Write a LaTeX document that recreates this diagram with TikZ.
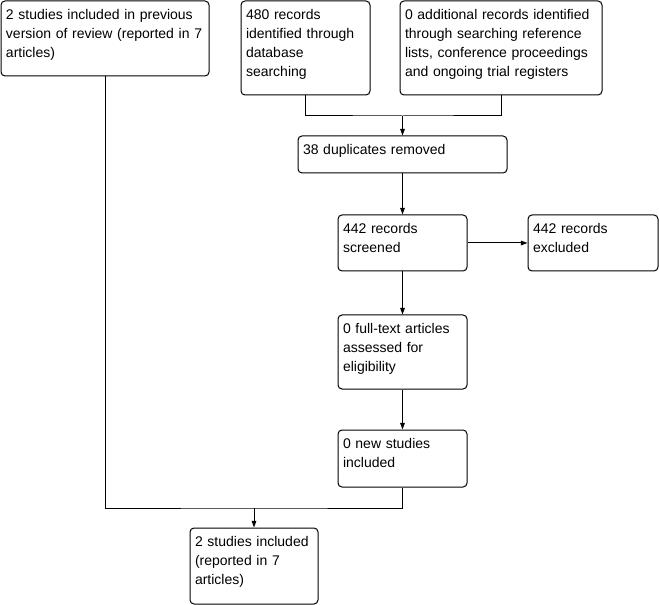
\documentclass[tikz,border=0pt]{standalone}
\usepackage{fontspec}
\setmainfont{Liberation Sans}
\usetikzlibrary{positioning, fit, arrows.meta, calc}

\tikzset{
  box/.style={draw, rounded corners=3pt, inner sep=0pt, line width=0.75pt},
  txt/.style={anchor=base west, align=left, inner sep=0pt, text width=200pt,
    font=\fontsize{10.5}{14.25}\selectfont},
  arr/.style={-{Triangle[length=5pt, width=3.5pt]}},
}

\begin{document}
\begin{tikzpicture}[x=0.75pt, y=0.75pt, line width=0.75pt]

      \useasboundingbox (0,0) rectangle (659,-605);

      % boxes
      \node[box, fit={(1,-1) (209,-76)}] (prev) {};
      \node[box, fit={(241,-1) (370,-95)}] (db) {};
      \node[box, fit={(400,-1) (602,-95)}] (other) {};
      \node[box, fit={(298,-136) (507,-173)}] (dup) {};
      \node[box, fit={(338,-215) (467,-271)}] (scr) {};
      \node[box, fit={(528,-215) (658,-271)}] (excl) {};
      \node[box, fit={(338,-315) (467,-389)}] (full) {};
      \node[box, fit={(338,-430) (467,-487)}] (newst) {};
      \node[box, fit={(190,-528) (318,-604)}] (incl) {};

      % texts
      \node[txt] (prevt) at ([shift={(5,-19)}]prev.north west)
        {2 studies included in previous\\version of review (reported in 7\\articles)};
      \node[txt] (dbt) at ([shift={(5,-19)}]db.north west)
        {480 records\\identified through\\database\\searching};
      \node[txt] (othert) at ([shift={(5,-19)}]other.north west)
        {0 additional records identified\\through searching reference\\lists, conference proceedings\\and ongoing trial registers};
      \node[txt] (dupt) at ([shift={(5,-19)}]dup.north west) {38 duplicates removed};
      \node[txt] (scrt) at ([shift={(5,-19)}]scr.north west) {442 records\\screened};
      \node[txt] (exclt) at ([shift={(5,-19)}]excl.north west) {442 records\\excluded};
      \node[txt] (fullt) at ([shift={(5,-19)}]full.north west)
        {0 full-text articles\\assessed for\\eligibility};
      \node[txt] (newstt) at ([shift={(5,-19)}]newst.north west) {0 new studies\\included};
      \node[txt] (inclt) at ([shift={(5,-19)}]incl.north west)
        {2 studies included\\(reported in 7\\articles)};

      % connectors
      \coordinate (mrg) at (dup.north |- 0,-116);
      \coordinate (bot) at (incl.north |- 0,-508);
      \draw (db.south) |- (mrg) -| (other.south);
      \draw[arr] (mrg) -- (dup.north);
      \draw[arr] (dup.south) -- (scr.north);
      \draw[arr] (scr.east) -- (excl.west);
      \draw[arr] (scr.south) -- (full.north);
      \draw[arr] (full.south) -- (newst.north);
      \draw (prev.south) |- (bot) -| (newst.south);
      \draw[arr] (bot) -- (incl.north);

    \end{tikzpicture}
\end{document}
